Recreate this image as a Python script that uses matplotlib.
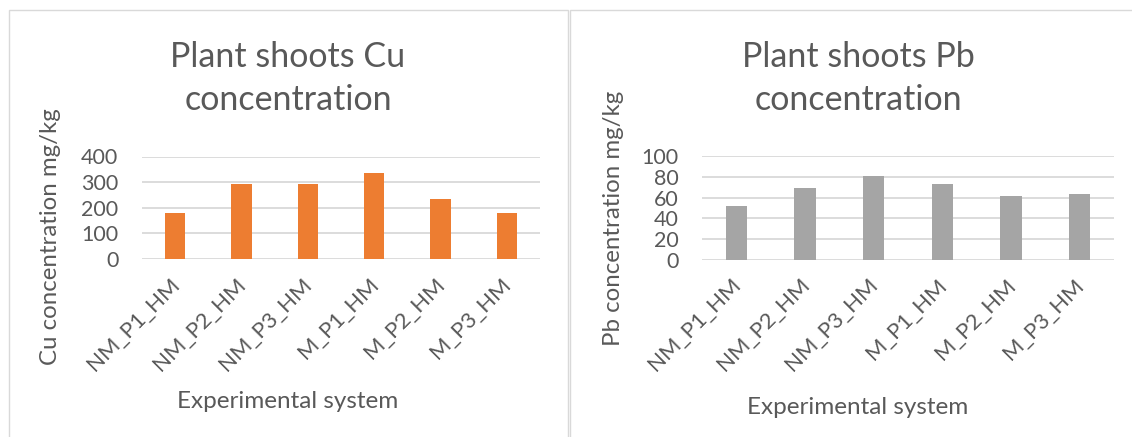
import numpy as np
import matplotlib.pyplot as plt
from matplotlib.patches import Rectangle
from matplotlib.transforms import ScaledTranslation

plt.rcParams['font.family'] = ['Lato', 'DejaVu Sans']

systems = ["NM_P1_HM", "NM_P2_HM", "NM_P3_HM", "M_P1_HM", "M_P2_HM", "M_P3_HM"]
cu_values = [180, 294, 294, 336, 235, 178]
pb_values = [52, 69.5, 81, 73, 61.5, 63.5]

cu_ticks = [0, 100, 200, 300, 400]
pb_ticks = [0, 20, 40, 60, 80, 100]

TEXT = "#595959"
GRID = "#D9D9D9"

W, H = 1132, 437
fig = plt.figure(figsize=(W / 100, H / 100), dpi=100)

TITLE_FS = 24.5
TICK_FS = 15.5
XTICK_FS = 16
YLABEL_FS = 17.3
XLABEL_FS = 17.5


def px_axes(x0, y_top, x1, y_bot):
    return fig.add_axes([x0 / W, 1 - y_bot / H, (x1 - x0) / W, (y_bot - y_top) / H])


# chart borders
fig.patches.append(Rectangle((9 / W, -0.1), (568 - 9) / W, 1.1 - 10 / H,
                             transform=fig.transFigure, fill=False,
                             edgecolor=GRID, lw=1.0))
fig.patches.append(Rectangle((570 / W, -0.1), 0.5, 1.1 - 10 / H,
                             transform=fig.transFigure, fill=False,
                             edgecolor=GRID, lw=1.0))


def draw_panel(ax, values, ticks, color, title_lines, ylabel, title_x, xlabel_y,
               ylabel_x, ylabel_y):
    x = np.arange(len(systems))
    ax.bar(x, values, width=0.31, color=color, zorder=3)
    ax.set_xlim(-0.5, len(systems) - 0.5)
    ax.set_ylim(ticks[0], ticks[-1])
    ax.set_yticks(ticks)
    ax.set_yticklabels([str(t) for t in ticks], fontsize=TICK_FS, color=TEXT)
    ax.yaxis.grid(True, color=GRID, lw=1.3, zorder=0)
    ax.set_axisbelow(True)
    for s in ax.spines.values():
        s.set_visible(False)
    ax.tick_params(axis="both", length=0)
    ax.tick_params(axis="y", pad=17)
    ax.set_xticks(x)
    ax.set_xticklabels(systems, rotation=45, ha="right", va="top",
                       rotation_mode="anchor", fontsize=XTICK_FS, color=TEXT)
    ax.tick_params(axis="x", pad=11)
    shift = ScaledTranslation(-0.06, 0, fig.dpi_scale_trans)
    for lab in ax.get_xticklabels():
        lab.set_transform(lab.get_transform() + shift)
    ax.set_facecolor("none")

    fig.text(title_x / W, 1 - 67 / H, title_lines[0], ha="center", va="baseline",
             fontsize=TITLE_FS, color=TEXT)
    fig.text(title_x / W, 1 - 110 / H, title_lines[1], ha="center", va="baseline",
             fontsize=TITLE_FS, color=TEXT)
    fig.text(title_x / W, 1 - xlabel_y / H, "Experimental system", ha="center",
             va="center", fontsize=XLABEL_FS, color=TEXT)
    fig.text(ylabel_x / W, 1 - ylabel_y / H, ylabel, ha="center", va="center",
             rotation=90, fontsize=YLABEL_FS, color=TEXT)


ax1 = px_axes(142, 156.5, 540, 259)
draw_panel(ax1, cu_values, cu_ticks, "#ED7D31",
           ["Plant shoots Cu", "concentration"], "Cu concentration mg/kg",
           288, 402, 51, 237)

ax2 = px_axes(702, 156.4, 1114, 259.5)
draw_panel(ax2, pb_values, pb_ticks, "#A5A5A5",
           ["Plant shoots Pb", "concentration"], "Pb concentration mg/kg",
           858, 408, 614, 218)

fig.savefig("out.png", dpi=100)
